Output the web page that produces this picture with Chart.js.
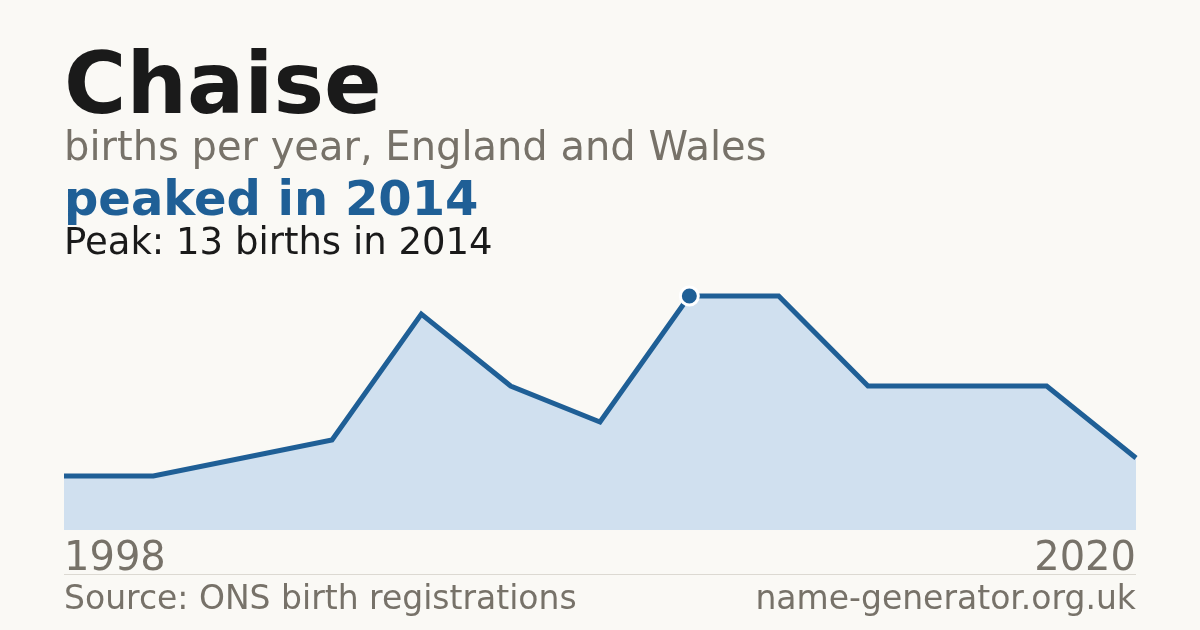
<!DOCTYPE html>
<html>
<head>
<meta charset="utf-8">
<script src="https://cdn.jsdelivr.net/npm/chart.js@4.4.1/dist/chart.umd.min.js"></script>
<style>
  html, body { margin: 0; padding: 0; }
  body { width: 1200px; height: 630px; background: #faf9f5; position: relative; overflow: hidden;
         font-family: "DejaVu Sans", sans-serif; }
  .t { position: absolute; left: 64px; line-height: 1; white-space: nowrap; }
  #title { top: 41px; font-size: 85px; font-weight: bold; color: #1a1a1a; }
  #sub { top: 126px; font-size: 40px; color: #777269; }
  #headline { top: 174px; font-size: 48px; font-weight: bold; color: #1f5f96; }
  #peak { top: 223px; font-size: 37px; color: #1a1a1a; }
  #yearStart { top: 536px; font-size: 40px; color: #777269; }
  #yearEnd { top: 536px; left: auto; right: 64px; font-size: 40px; color: #777269; }
  #rule { position: absolute; left: 64px; width: 1072px; top: 574px; height: 1px; background: #dcd9d2; }
  #source { top: 581px; font-size: 33px; color: #777269; }
  #site { top: 581px; left: auto; right: 64px; font-size: 33px; color: #777269; }
  #chart { position: absolute; left: 0; top: 0; }
</style>
</head>
<body>
<canvas id="chart" width="1200" height="630"></canvas>
<div class="t" id="title">Chaise</div>
<div class="t" id="sub">births per year, England and Wales</div>
<div class="t" id="headline">peaked in 2014</div>
<div class="t" id="peak">Peak: 13 births in 2014</div>
<div class="t" id="yearStart"></div>
<div class="t" id="yearEnd"></div>
<div id="rule"></div>
<div class="t" id="source">Source: ONS birth registrations</div>
<div class="t" id="site">name-generator.org.uk</div>

<script>
// years with recorded births (gaps are years not published)
const years = ['1998', '2003', '2005', '2008', '2009', '2010', '2012', '2014', '2015', '2016', '2017', '2018', '2020']
const births = [3, 3, 4, 5, 12, 8, 6, 13, 13, 8, 8, 8, 4]

const peakValue = Math.max(...births)
const peakIndex = births.indexOf(peakValue)

document.getElementById('yearStart').textContent = years[0]
document.getElementById('yearEnd').textContent = years[years.length - 1]

const ctx = document.getElementById('chart').getContext('2d')
new Chart(ctx, {
    type: 'line',
    data: {
        labels: years,
        datasets: [{
            data: births,
            borderColor: '#1f5f96',
            borderWidth: 5,
            backgroundColor: '#d0e0ef',
            fill: 'origin',
            tension: 0,
            clip: false,
            pointRadius: births.map((v, i) => i === peakIndex ? 9 : 0),
            pointBackgroundColor: '#1f5f96',
            pointBorderColor: '#ffffff',
            pointBorderWidth: 3,
            pointHoverRadius: 0
        }]
    },
    options: {
        responsive: false,
        animation: false,
        devicePixelRatio: 1,
        layout: {
            padding: { left: 64, right: 64, top: 296, bottom: 100 }
        },
        plugins: {
            legend: { display: false },
            tooltip: { enabled: false }
        },
        scales: {
            x: { display: false, offset: false },
            y: { display: false, min: 0, max: peakValue }
        }
    }
});
</script>
</body>
</html>
